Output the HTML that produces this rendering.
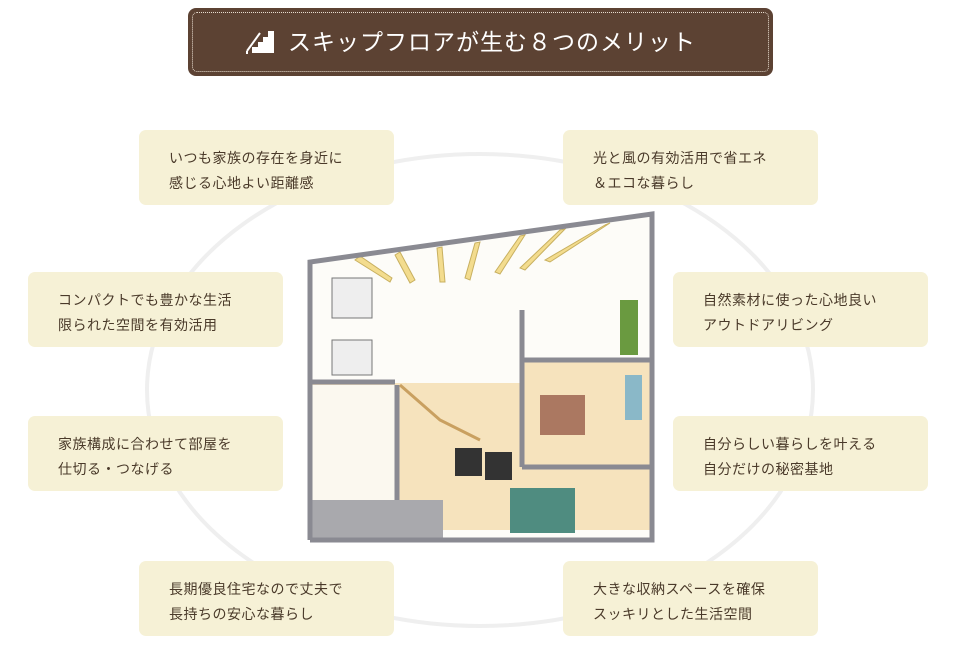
<!DOCTYPE html>
<html><head><meta charset="utf-8"><style>
body{margin:0;width:960px;height:650px;background:#fff;position:relative;overflow:hidden;font-family:"Liberation Sans","Noto Sans CJK JP",sans-serif}
.title{position:absolute;left:188px;top:8px;width:585px;height:68px;background:#5c4233;border-radius:8px;box-sizing:border-box}
.title .in{position:absolute;left:4px;top:4px;right:4px;bottom:4px;border:1.5px dotted #e8ddd0;border-radius:5px}
.title .t{position:absolute;left:100px;top:20px;color:#fff;font-size:23px;letter-spacing:1px;line-height:28px}
.box{position:absolute;width:255px;height:75px;background:#f6f1d6;border-radius:7px;box-sizing:border-box;padding:16px 0 0 30px;color:#4a3a2a;font-size:14px;line-height:25px;letter-spacing:.5px}
</style></head><body>
<svg width="960" height="650" style="position:absolute;left:0;top:0">
<ellipse cx="480" cy="390" rx="333" ry="236" fill="none" stroke="#efefef" stroke-width="4"/>
<!-- house -->
<polygon points="308,260 652,213 652,540 308,540" fill="#fdfcf8"/>
<polygon points="310,383 520,383 520,360 650,360 650,530 440,530 440,500 310,500" fill="#f2d9a4" opacity=".7"/>
<rect x="312" y="385" width="85" height="115" fill="#fbf8ef"/>
<rect x="308" y="500" width="135" height="40" fill="#a9a9ad"/>
<rect x="510" y="488" width="65" height="45" fill="#4f8c80"/>
<rect x="455" y="448" width="27" height="28" fill="#333"/>
<rect x="485" y="452" width="27" height="28" fill="#333"/>
<rect x="332" y="278" width="40" height="40" fill="#eee" stroke="#777"/>
<rect x="332" y="340" width="40" height="35" fill="#eee" stroke="#777"/>
<rect x="540" y="395" width="45" height="40" fill="#8b4a3a" opacity=".7"/>
<rect x="625" y="375" width="17" height="45" fill="#8ab8c8"/>
<rect x="620" y="300" width="18" height="55" fill="#6a9a40"/>
<g fill="#f3dc8e" stroke="#c8b060" stroke-width="1">
<polygon points="355,260 390,282 392,278 360,256"/><polygon points="395,255 410,283 415,280 400,252"/>
<polygon points="437,248 440,282 445,282 442,247"/><polygon points="475,243 465,278 470,280 480,242"/>
<polygon points="520,236 495,272 500,274 525,235"/><polygon points="560,230 520,268 525,270 565,229"/>
<polygon points="605,225 545,260 550,262 610,223"/>
</g>
<g stroke="#8a8a92" stroke-width="5" fill="none">
<polyline points="310,540 310,262 652,214 652,540 310,540"/>
<line x1="310" y1="382" x2="395" y2="382"/><line x1="522" y1="310" x2="522" y2="467"/>
<line x1="522" y1="360" x2="652" y2="360"/><line x1="522" y1="467" x2="652" y2="467"/>
<line x1="397" y1="385" x2="397" y2="500"/>
</g>
<polyline points="400,385 440,420 480,440" stroke="#c9a060" stroke-width="3" fill="none"/>
</svg>
<div class="title"><div class="in"></div>
<svg style="position:absolute;left:58px;top:19px" width="30" height="28"><polygon points="6,26 28,26 28,4 22,4 22,10 17,10 17,15 12,15 12,20 6,20" fill="#fff"/><line x1="1" y1="24" x2="14" y2="6" stroke="#fff" stroke-width="2"/><line x1="1" y1="24" x2="1" y2="27" stroke="#fff" stroke-width="2"/></svg>
<div class="t">スキップフロアが生む８つのメリット</div></div>
<div class="box" style="left:139px;top:130px">いつも家族の存在を身近に<br>感じる心地よい距離感</div>
<div class="box" style="left:563px;top:130px">光と風の有効活用で省エネ<br>＆エコな暮らし</div>
<div class="box" style="left:28px;top:272px">コンパクトでも豊かな生活<br>限られた空間を有効活用</div>
<div class="box" style="left:673px;top:272px">自然素材に使った心地良い<br>アウトドアリビング</div>
<div class="box" style="left:28px;top:416px">家族構成に合わせて部屋を<br>仕切る・つなげる</div>
<div class="box" style="left:673px;top:416px">自分らしい暮らしを叶える<br>自分だけの秘密基地</div>
<div class="box" style="left:139px;top:561px">長期優良住宅なので丈夫で<br>長持ちの安心な暮らし</div>
<div class="box" style="left:563px;top:561px">大きな収納スペースを確保<br>スッキリとした生活空間</div>
</body></html>
